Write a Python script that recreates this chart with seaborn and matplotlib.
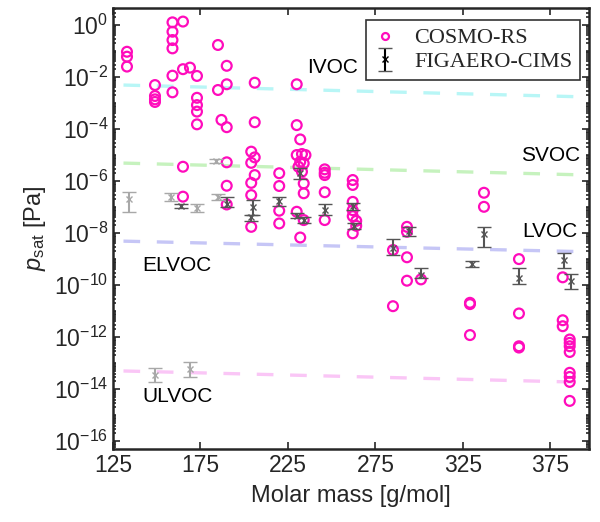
import numpy as np
import seaborn as sns
import matplotlib.pyplot as plt
import matplotlib.ticker as ticker
from matplotlib.legend_handler import HandlerErrorbar
from matplotlib.lines import Line2D


sns.set_theme(style='ticks')
plt.rcParams['font.family'] = ['Liberation Sans', 'DejaVu Sans']
plt.rcParams['mathtext.fontset'] = 'custom'
plt.rcParams['mathtext.rm'] = 'Liberation Sans'
plt.rcParams['mathtext.it'] = 'Liberation Sans:italic'

# COSMO-RS points: molar mass [g/mol] and log10(psat [Pa])
cosmo_mass = [133, 133, 133,
              149, 149, 149, 149,
              159, 159, 159, 159, 159, 159,
              165, 165, 165, 165,
              169,
              173, 173, 173, 173, 173,
              185, 185, 187,
              190, 190, 190, 190, 190, 190,
              204, 204, 204, 204, 204,
              206, 206, 206, 206,
              220, 220, 220, 220,
              230, 230, 232, 230, 233, 235, 232, 234, 231, 233, 234, 234, 230, 234, 232,
              246, 246, 246, 246, 246,
              262, 262, 262, 262, 262, 264, 264, 262,
              285, 285,
              293, 293, 293, 293,
              301,
              329, 329, 329,
              337, 337,
              357, 357, 357, 357,
              382, 382, 382,
              386, 386, 386, 386, 386, 386, 386, 386]
cosmo_logp = [-1.03, -1.22, -1.60,
              -2.31, -2.73, -2.86, -2.96,
              0.10, -0.26, -0.58, -0.90, -1.95, -2.59,
              0.13, -1.70, -5.45, -6.60,
              -1.64,
              -1.96, -2.80, -3.08, -3.33, -3.82,
              -0.77, -2.50, -3.65,
              -1.57, -2.28, -3.93, -5.28, -6.18, -6.90,
              -4.87, -5.30, -6.07, -6.54, -7.76,
              -2.22, -3.74, -5.09, -5.77,
              -5.70, -6.19, -7.14, -7.63,
              -2.28, -3.85, -4.40, -5.00, -4.96, -5.00, -5.26, -5.32, -5.45, -5.64, -6.09, -6.47, -7.18, -7.50, -8.17,
              -5.55, -5.68, -5.77, -6.43, -7.50,
              -5.96, -6.15, -6.80, -7.12, -7.35, -7.53, -7.72, -8.01,
              -8.65, -10.81,
              -7.76, -7.95, -8.93, -9.83,
              -9.78,
              -10.68, -10.73, -11.92,
              -6.45, -6.99,
              -9.00, -11.09, -12.35, -12.40,
              -9.70, -11.35, -11.58,
              -12.09, -12.22, -12.35, -12.57, -13.37, -13.53, -13.72, -14.45]

# FIGAERO-CIMS (light grey): mass, log10 centre, lower, upper
light_mass = [134, 158, 173, 184, 185, 149, 169]
light_mid = [-6.69, -6.63, -7.05, -5.23, -6.62, -13.46, -13.23]
light_lo = [-7.18, -6.77, -7.20, -5.32, -6.73, -13.72, -13.53]
light_hi = [-6.43, -6.47, -6.88, -5.15, -6.50, -13.18, -12.95]

# FIGAERO-CIMS (dark grey)
dark_mass = [164, 190, 205, 204, 220, 232, 230, 234, 246, 262, 263,
             285, 294, 301, 330, 337, 357, 383, 387]
dark_mid = [-6.96, -6.88, -7.01, -7.40, -6.76, -5.69, -7.33, -7.50, -7.12, -6.97, -7.74,
            -8.59, -7.92, -9.62, -9.20, -8.05, -9.72, -9.04, -9.85]
dark_lo = [-7.05, -7.01, -7.31, -7.53, -6.96, -5.92, -7.43, -7.60, -7.31, -7.12, -7.86,
           -8.85, -8.12, -9.74, -9.32, -8.53, -9.96, -9.36, -10.13]
dark_hi = [-6.88, -6.63, -6.73, -7.31, -6.60, -5.50, -7.24, -7.40, -6.88, -6.83, -7.63,
           -8.24, -7.76, -9.36, -9.08, -7.76, -9.36, -8.78, -9.59]

# volatility class boundaries (log10 psat at both ends)
bound_mass = [131, 397]
bound_ivoc = [-2.31, -2.77]
bound_svoc = [-5.31, -5.77]
bound_lvoc = [-8.31, -8.72]
bound_elvoc = [-13.30, -13.74]

MAGENTA = '#ff0cbc'
DARK = '#555555'
LIGHT = '#a8a8a8'
INK = '#262626'

fig = plt.figure(figsize=(6, 5.22), dpi=100)
ax = fig.add_axes([0.1883, 0.1398, 0.7933, 0.8448])

for vals, col in [(bound_ivoc, '#b8f6f6'), (bound_svoc, '#c6f2be'),
                  (bound_lvoc, '#c6c6f6'), (bound_elvoc, '#fac6f6')]:
    ax.plot(bound_mass, 10.0 ** np.array(vals), color=col, lw=2.4,
            dashes=(5, 5), zorder=1)

sns.scatterplot(x=cosmo_mass, y=10.0 ** np.array(cosmo_logp), ax=ax,
                marker='o', s=50, facecolors='none', edgecolor=MAGENTA,
                linewidth=1.6, zorder=3)


def draw_bars(mass, mid, lo, hi, col):
    p = 10.0 ** np.array(mid)
    err = [p - 10.0 ** np.array(lo), 10.0 ** np.array(hi) - p]
    return ax.errorbar(mass, p, yerr=err, fmt='x', ms=4, mew=1.0, color=col,
                       ecolor=col, elinewidth=1.5, capsize=5, capthick=1.5,
                       zorder=4)


draw_bars(light_mass, light_mid, light_lo, light_hi, LIGHT)
cims = draw_bars(dark_mass, dark_mid, dark_lo, dark_hi, DARK)

ax.set_yscale('log')
ax.set_xlim(125, 397)
ax.set_ylim(10 ** -16.3, 10 ** 0.65)
ax.set_xticks([125, 175, 225, 275, 325, 375])
ax.yaxis.set_major_locator(ticker.FixedLocator([10.0 ** k for k in range(-16, 1, 2)]))
ax.yaxis.set_minor_locator(ticker.LogLocator(base=10, subs=np.arange(1, 10), numticks=100))
ax.yaxis.set_major_formatter(ticker.LogFormatterMathtext())
ax.yaxis.set_minor_formatter(ticker.NullFormatter())

ax.tick_params(which='both', direction='in', top=True, right=True,
               colors=INK, labelsize=16.5, width=1.2)
ax.tick_params(which='major', length=5)
ax.tick_params(which='minor', length=2.5)
for s in ax.spines.values():
    s.set_linewidth(1.8)
    s.set_color(INK)

ax.set_xlabel('Molar mass [g/mol]', fontsize=17, color=INK, labelpad=6)
ax.set_ylabel(r'$p_{\mathrm{sat}}$ [Pa]', fontsize=17, color=INK, labelpad=4)

for txt, xm, lp in [('IVOC', 236, -1.65), ('SVOC', 358, -5.0), ('LVOC', 359, -7.95),
                    ('ELVOC', 141.6, -9.23), ('ULVOC', 141.6, -14.3)]:
    ax.text(xm, 10.0 ** lp, txt, fontsize=15, color='black', ha='left', va='center')


class BlackErrorbar(HandlerErrorbar):
    def create_artists(self, *args, **kwargs):
        arts = super().create_artists(*args, **kwargs)
        for a in arts:
            a.set_color('black')
        return arts


circ = Line2D([], [], ls='none', marker='o', ms=5, mfc='none', mec=MAGENTA, mew=1.6)
leg = ax.legend([circ, cims], ['COSMO-RS', 'FIGAERO-CIMS'], loc='upper right',
                bbox_to_anchor=(0.981, 0.973), borderaxespad=0,
                prop={'family': 'Liberation Serif', 'size': 16},
                handler_map={type(cims): BlackErrorbar(xerr_size=0.5, yerr_size=0.5)},
                handlelength=1.0, handletextpad=0.8, labelspacing=0.15,
                borderpad=0.35, frameon=True, fancybox=False)
leg.get_frame().set_edgecolor('black')
leg.get_frame().set_linewidth(1.2)

fig.savefig('out.png', dpi=100)
